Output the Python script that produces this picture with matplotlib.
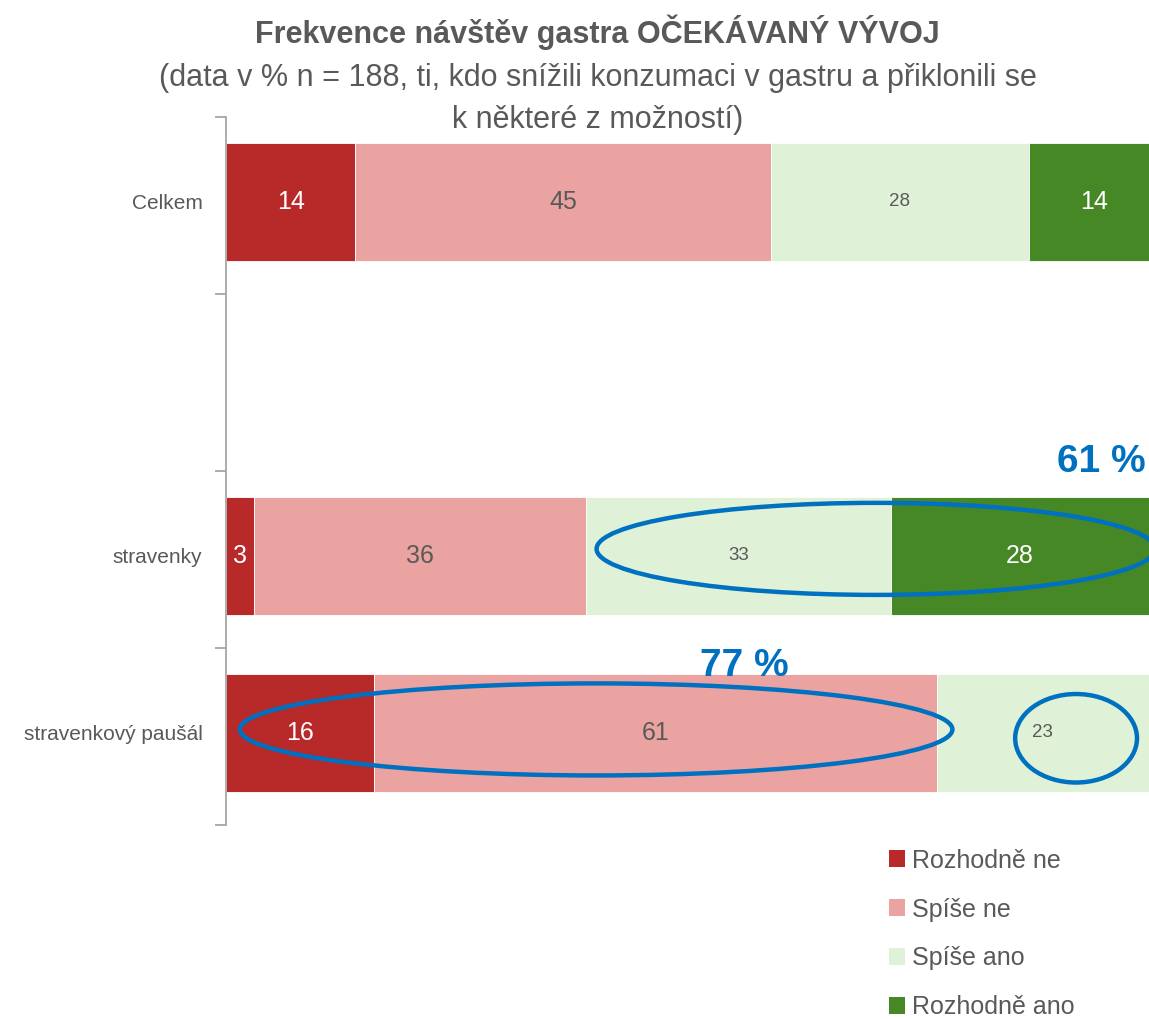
import numpy as np
import matplotlib
matplotlib.use("Agg")
import matplotlib.pyplot as plt
from matplotlib.patches import Ellipse, Patch

plt.rcParams['font.family'] = ['Liberation Sans', 'DejaVu Sans']

# data (v %)
kategorie = ['Celkem', '', 'stravenky', 'stravenkový paušál']
odpovedi = ['Rozhodně ne', 'Spíše ne', 'Spíše ano', 'Rozhodně ano']
rozhodne_ne = [14, 0, 3, 16]
spise_ne = [45, 0, 36, 61]
spise_ano = [28, 0, 33, 23]
rozhodne_ano = [14, 0, 28, 0]

barvy = ['#B8292A', '#EBA3A1', '#DFF2D8', '#468726']
barvy_textu = ['white', '#595959', '#595959', 'white']
velikosti = [18, 18, 13.5, 18]
seda = '#595959'
modra = '#0070C0'

fig = plt.figure(figsize=(11.49, 10.19), dpi=100)
ax = fig.add_axes([226 / 1149, 194 / 1019, 923 / 1149, 708 / 1019])

y = np.arange(len(kategorie))
serie = [rozhodne_ne, spise_ne, spise_ano, rozhodne_ano]
left = np.zeros(len(kategorie))
for vals, c, tc, fs in zip(serie, barvy, barvy_textu, velikosti):
    vals = np.array(vals, dtype=float)
    ax.barh(y - 0.02, vals, left=left, height=0.67, color=c, edgecolor='white', linewidth=0.6)
    for yi, (l, v) in enumerate(zip(left, vals)):
        if v > 0:
            ax.text(l + v / 2, yi - 0.02, f'{v:.0f}', ha='center', va='center', color=tc, fontsize=fs)
    left += vals

ax.set_xlim(0, 100)
ax.set_ylim(3.5, -0.5)
ax.set_xticks([])
for s in ['top', 'right', 'bottom']:
    ax.spines[s].set_visible(False)
ax.spines['left'].set_color('#A6A6A6')
ax.spines['left'].set_linewidth(1.3)
ax.set_yticks(np.arange(-0.5, 4, 1))
ax.set_yticklabels([])
ax.tick_params(axis='y', which='major', length=8, width=1.3, color='#A6A6A6')
ax.set_yticks(y - 0.02, minor=True)
ax.set_yticklabels(kategorie, minor=True, fontsize=15, color=seda)
ax.tick_params(axis='y', which='minor', length=0, pad=17)

# zvýraznění
for (cx, cy, w, h) in [(70.4, 1.94, 60.5, 0.52), (40.1, 2.96, 77.2, 0.52), (92.1, 3.01, 13.2, 0.50)]:
    ax.add_patch(Ellipse((cx, cy), w, h, fill=False, edgecolor=modra, linewidth=3.2, clip_on=False))
ax.text(90.0, 1.45, '61 %', color=modra, fontsize=28, fontweight='bold', ha='left', va='center', clip_on=False)
ax.text(56.2, 2.6, '77 %', color=modra, fontsize=28, fontweight='bold', ha='center', va='center')

fig.text(0.52, 1 - 32 / 1019, 'Frekvence návštěv gastra OČEKÁVANÝ VÝVOJ', ha='center', va='center',
         fontsize=22, fontweight='bold', color=seda)
fig.text(0.52, 1 - 78 / 1019, '(data v % n = 188, ti, kdo snížili konzumaci v gastru a přiklonili se', ha='center',
         va='center', fontsize=22, color=seda)
fig.text(0.52, 1 - 120 / 1019, 'k některé z možností)', ha='center', va='center', fontsize=22, color=seda)

handles = [Patch(facecolor=c) for c in barvy]
leg = fig.legend(handles, odpovedi, loc='center left', bbox_to_anchor=(866 / 1149, 1 - 934 / 1019),
                 frameon=False, fontsize=18, handlelength=0.65, handleheight=0.65, handletextpad=0.3,
                 labelspacing=1.0)
for t in leg.get_texts():
    t.set_color(seda)

fig.savefig('out.png', dpi=100)
